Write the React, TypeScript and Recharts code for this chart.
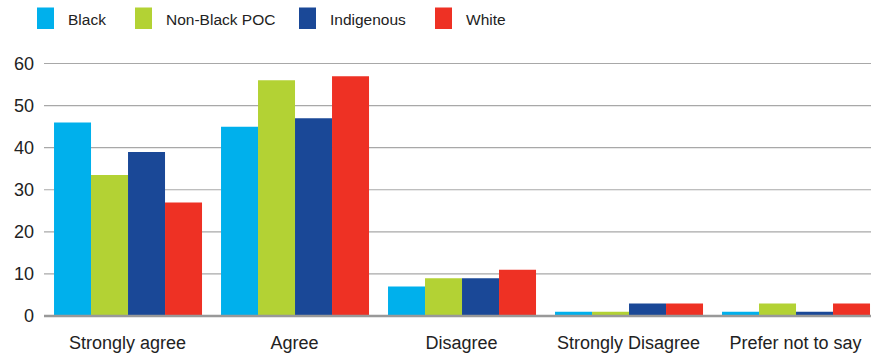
import React from 'react';
import { BarChart, Bar, XAxis, YAxis, CartesianGrid, ReferenceLine } from 'recharts';

const categories = ['Strongly agree', 'Agree', 'Disagree', 'Strongly Disagree', 'Prefer not to say'];
const blackValues = [46, 45, 7, 1, 1];
const nonBlackPocValues = [33.5, 56, 9, 1, 3];
const indigenousValues = [39, 47, 9, 3, 1];
const whiteValues = [27, 57, 11, 3, 3];
const yTicks = [0, 10, 20, 30, 40, 50, 60];

const series = [
  { key: 'black', name: 'Black', color: '#00B0EC', values: blackValues },
  { key: 'nonBlack', name: 'Non-Black POC', color: '#B3D234', values: nonBlackPocValues },
  { key: 'indigenous', name: 'Indigenous', color: '#1A4897', values: indigenousValues },
  { key: 'white', name: 'White', color: '#EE3124', values: whiteValues },
];

const data = categories.map((category, i) => {
  const row: Record<string, string | number> = { category };
  series.forEach((s) => {
    row[s.key] = s.values[i];
  });
  return row;
});

const FONT = '"Liberation Sans", Arial, Helvetica, sans-serif';

const legendX = [37, 135, 299, 435];

function LegendRow() {
  return (
    <svg width={871} height={40} style={{ position: 'absolute', left: 0, top: 0, display: 'block' }}>
      {series.map((s, i) => (
        <g key={s.key}>
          <rect x={legendX[i]} y={7.5} width={17} height={21.5} fill={s.color} />
          <text
            x={legendX[i] + 31}
            y={24.5}
            fontSize={15.5}
            fontFamily={FONT}
            fill="#222"
          >
            {s.name}
          </text>
        </g>
      ))}
    </svg>
  );
}

export default function App() {
  return (
    <div style={{ position: 'absolute', left: 0, top: 0, width: 871, height: 354, overflow: 'hidden', background: '#fff' }}>
      <BarChart
        width={879}
        height={354}
        data={data}
        margin={{ top: 63.5, right: 0, bottom: 0, left: 0 }}
        barCategoryGap="6%"
        barGap={0}
      >
        <CartesianGrid vertical={false} stroke="#a8a8a8" strokeWidth={1.2} />
        <XAxis
          dataKey="category"
          height={38}
          axisLine={false}
          tickLine={false}
          tickSize={0}
          tickMargin={20}
          interval={0}
          tick={{ fontSize: 18, fontFamily: FONT, fill: '#222' }}
        />
        <YAxis
          width={44}
          domain={[0, 60]}
          ticks={yTicks}
          axisLine={false}
          tickLine={false}
          tickSize={0}
          tickMargin={10}
          tick={{ fontSize: 18, fontFamily: FONT, fill: '#222' }}
        />
        {series.map((s) => (
          <Bar key={s.key} dataKey={s.key} name={s.name} fill={s.color} isAnimationActive={false} />
        ))}
        <ReferenceLine y={0} stroke="#999" strokeWidth={2.5} />
      </BarChart>
      <LegendRow />
    </div>
  );
}
